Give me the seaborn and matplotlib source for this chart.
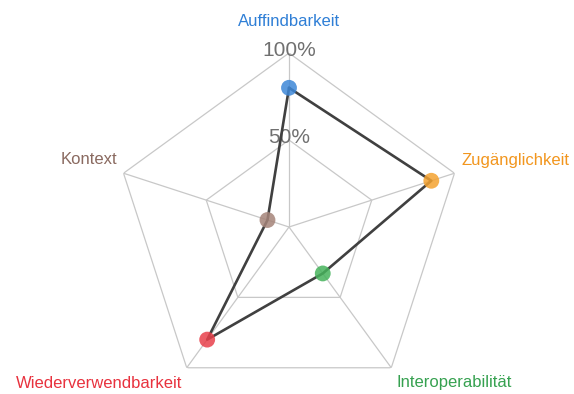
import numpy as np
import pandas as pd
import matplotlib
matplotlib.use("Agg")
import matplotlib.pyplot as plt
import seaborn as sns

categories = ["Auffindbarkeit", "Zugänglichkeit", "Interoperabilität", "Wiederverwendbarkeit", "Kontext"]
values = [80, 86, 33, 80, 13]
point_colors = ["#3d87d8", "#f4a230", "#46b35c", "#e8414b", "#a58479"]
label_colors = ["#2f7fd6", "#f2961e", "#36a150", "#e8323e", "#8a6a60"]
grid_levels = [50, 100]
tick_labels = ["50%", "100%"]

sns.set_theme(style="white")
plt.rcParams["font.family"] = ["Liberation Sans", "DejaVu Sans"]

W, H = 574, 394
fig = plt.figure(figsize=(W / 100, H / 100), dpi=100)
cx, cy, R = 289, 227, 174
ax = fig.add_axes([(cx - R) / W, (H - cy - R) / H, 2 * R / W, 2 * R / H], projection="polar")
ax.set_theta_zero_location("N")
ax.set_theta_direction(-1)
ax.set_ylim(0, 100)
ax.grid(False)
ax.spines["polar"].set_visible(False)
ax.set_xticks([])
ax.set_yticks([])
ax.set_facecolor("none")

n = len(categories)
theta = np.arange(n) * 2 * np.pi / n
theta_c = np.append(theta, theta[0])

# pentagon grid
for lvl in grid_levels:
    ax.plot(theta_c, [lvl] * (n + 1), color="#c8c8c8", lw=0.9, zorder=1)
for t in theta:
    ax.plot([t, t], [0, 100], color="#c8c8c8", lw=0.9, zorder=1)

# tick labels
for lvl, lab in zip(grid_levels, tick_labels):
    ax.text(0, lvl + 1.5, lab, ha="center", va="center", fontsize=15, color="#707070", zorder=2)

df = pd.DataFrame({"theta": theta_c, "value": values + [values[0]]})
sns.lineplot(data=df, x="theta", y="value", sort=False, estimator=None, color="#404040",
             lw=1.9, ax=ax, zorder=3, legend=False)
ax.scatter(theta, values, s=130, c=point_colors, alpha=0.85, edgecolors="none", zorder=4)
ax.set_xlabel("")
ax.set_ylabel("")
ax.set_ylim(0, 100)

offsets = [(0, 31.5, "center", "center"), (7, 13, "left", "center"), (5, -7, "left", "top"),
           (-4, -8, "right", "top"), (-6, 14, "right", "center")]
for t, lab, col, (dx, dy, ha, va) in zip(theta, categories, label_colors, offsets):
    ax.annotate(lab, xy=(t, 100), xytext=(dx, dy), textcoords="offset pixels",
                ha=ha, va=va, fontsize=12, color=col, annotation_clip=False)

fig.savefig("out.png", dpi=100)
